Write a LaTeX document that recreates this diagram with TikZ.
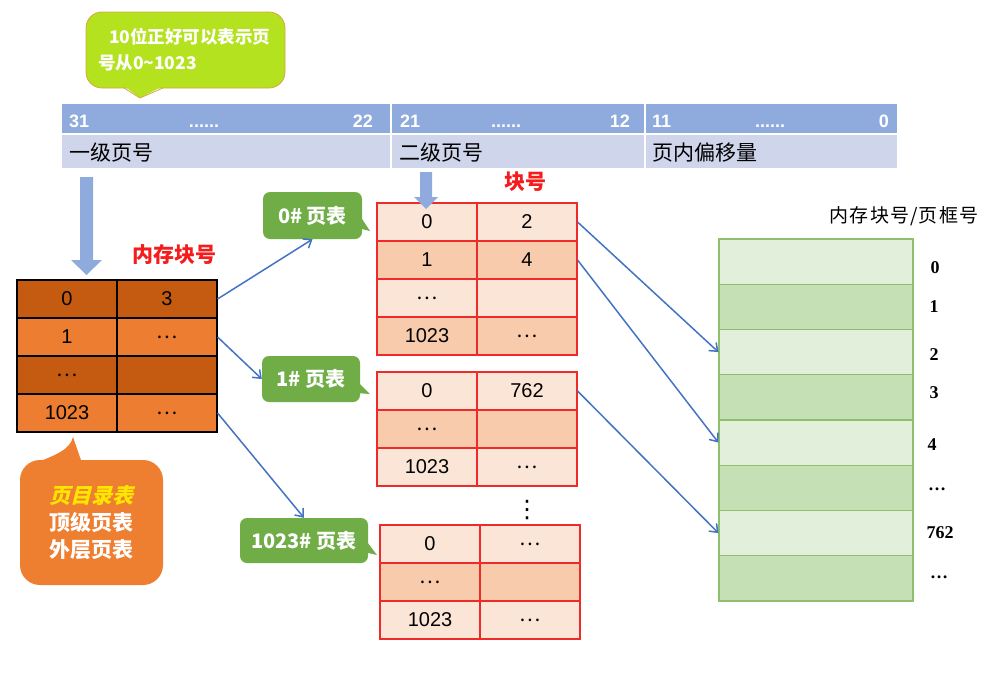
\documentclass[tikz,border=0pt]{standalone}
\usepackage{fontspec}
\setmainfont{Liberation Sans}
\newfontfamily\cjk{Noto Sans CJK SC}
\newfontfamily\cjksl{Noto Sans CJK SC}[FakeSlant=0.25]
\newfontfamily\cjkls{Noto Sans CJK SC}[LetterSpace=6]
\newfontfamily\tnr{Liberation Serif}
\newfontfamily\dejavu{DejaVu Sans}
\usetikzlibrary{arrows.meta}
\definecolor{hblue}{HTML}{8FAADC}
\definecolor{hlav}{HTML}{CFD5EA}
\definecolor{odark}{HTML}{C55A11}
\definecolor{olight}{HTML}{ED7D31}
\definecolor{pl}{HTML}{FBE5D6}
\definecolor{pd}{HTML}{F8CBAD}
\definecolor{pred}{HTML}{EE2A2A}
\definecolor{ml}{HTML}{E2EFDA}
\definecolor{md}{HTML}{C5E0B4}
\definecolor{mborder}{HTML}{8CC06E}
\definecolor{gcol}{HTML}{70AD47}
\definecolor{lime}{HTML}{B4E21E}
\definecolor{limeb}{HTML}{D9A441}
\definecolor{arrblue}{HTML}{4472C4}
\definecolor{ocall}{HTML}{EE7E30}
\definecolor{yel}{HTML}{FFE600}
\definecolor{lred}{HTML}{F41C1C}
\newcommand\mydots{{\cjk …}}
\begin{document}
\begin{tikzpicture}[x=1pt,y=-1pt,
  cell/.style={minimum width=100pt, minimum height=38pt, inner sep=0pt, line width=1.1pt, font=\fontsize{20}{20}\selectfont},
  dcell/.style={cell, draw=black},
  pcell/.style={cell, draw=pred},
  mcell/.style={minimum width=194pt, minimum height=45.25pt, inner sep=0pt, draw=mborder, line width=1.1pt},
  hcell/.style={inner sep=0pt},
  hnum/.style={inner sep=0pt, text=white, font=\fontsize{18}{18}\selectfont\bfseries},
  hlab/.style={inner sep=0pt, anchor=west, font=\cjk\fontsize{21}{21}\selectfont},
  gcall/.style={fill=gcol, rounded corners=7pt, text=white, inner sep=0pt, font=\cjk\bfseries\fontsize{20}{20}\selectfont},
  conn/.style={draw=arrblue, line width=1.5pt, -{Straight Barb[length=7pt,width=11pt]}},
  mlab/.style={inner sep=0pt, font=\tnr\bfseries\fontsize{18}{18}\selectfont},
  redlab/.style={inner sep=0pt, text=lred, font=\cjk\bfseries\fontsize{21}{21}\selectfont}
]
\useasboundingbox (0,0) rectangle (990,680);

% top bubble
\node[fill=lime, draw=limeb, line width=0.8pt, rounded corners=16pt, minimum width=199pt, minimum height=76pt,
      text width=175pt, inner sep=0pt, align=left, text=white,
      font=\cjk\bfseries\fontsize{17.5}{26}\selectfont] (bub) at (185.5,50) {\hspace*{11pt}10位正好可以表示页\\号从0\textasciitilde1023};
\fill[lime] (124,86) -- (140,98) -- (163,86) -- cycle;
\draw[limeb, line width=0.8pt] (124,88) -- (140,98) -- (163,88);

% header
\node[hcell, fill=hblue, minimum width=328pt, minimum height=29pt] (h1) at (226,118.5) {};
\node[hcell, fill=hblue, minimum width=252pt, minimum height=29pt] (h2) at (518,118.5) {};
\node[hcell, fill=hblue, minimum width=251pt, minimum height=29pt] (h3) at (771.5,118.5) {};
\node[hcell, fill=hlav, minimum width=328pt, minimum height=33pt] (l1) at (226,151.5) {};
\node[hcell, fill=hlav, minimum width=252pt, minimum height=33pt] (l2) at (518,151.5) {};
\node[hcell, fill=hlav, minimum width=251pt, minimum height=33pt] (l3) at (771.5,151.5) {};
\node[hnum, anchor=base west] (n31) at (69,127) {31};
\node[hnum, anchor=base] (e1) at (204,127) {......};
\node[hnum, anchor=base east] (n22) at (373,127) {22};
\node[hnum, anchor=base west] (n21) at (400,127) {21};
\node[hnum, anchor=base] (e2) at (506,127) {......};
\node[hnum, anchor=base east] (n12) at (630,127) {12};
\node[hnum, anchor=base west] (n11) at (652,127) {11};
\node[hnum, anchor=base] (e3) at (770,127) {......};
\node[hnum, anchor=base east] (n0) at (889,127) {0};
\node[hlab] (t1) at (69,153) {一级页号};
\node[hlab] (t2) at (399,153) {二级页号};
\node[hlab] (t3) at (652,153) {页内偏移量};

% big arrows
\fill[hblue] (80,177) -- (93,177) -- (93,260) -- (102,260) -- (86.5,275) -- (71,260) -- (80,260) -- cycle;

% red labels
\node[redlab] (lab1) at (174,255) {内存块号};
\node[redlab] (lab2) at (525,182) {块号};

% page directory
\node[dcell, fill=odark] (d00) at (67,299) {0};
\node[dcell, fill=odark] (d01) at (167,299) {3};
\node[dcell, fill=olight] (d10) at (67,337) {1};
\node[dcell, fill=olight] (d11) at (167,337) {\mydots};
\node[dcell, fill=odark] (d20) at (67,375) {\mydots};
\node[dcell, fill=odark] (d21) at (167,375) {};
\node[dcell, fill=olight] (d30) at (67,413) {1023};
\node[dcell, fill=olight] (d31) at (167,413) {\mydots};

% orange callout
\fill[ocall] (36,463) .. controls (55,455) and (70,450) .. (73,437) -- (82,463) -- cycle;
\node[fill=ocall, rounded corners=20pt, minimum width=143pt, minimum height=125pt, inner sep=0pt,
      align=center, text=white, font=\cjk\bfseries\fontsize{21}{27}\selectfont] (oc) at (91.5,522.5)
      {{\color{yel}\cjksl\bfseries 页目录表}\\顶级页表\\外层页表};

% 0# table
\node[pcell, fill=pl] (p000) at (427,222) {0};
\node[pcell, fill=pl] (p001) at (527,222) {2};
\node[pcell, fill=pd] (p010) at (427,260) {1};
\node[pcell, fill=pd] (p011) at (527,260) {4};
\node[pcell, fill=pl] (p020) at (427,298) {\mydots};
\node[pcell, fill=pl] (p021) at (527,298) {};
\node[pcell, fill=pd] (p030) at (427,336) {1023};
\node[pcell, fill=pd] (p031) at (527,336) {\mydots};

% 1# table
\node[pcell, fill=pl] (p100) at (427,391) {0};
\node[pcell, fill=pl] (p101) at (527,391) {762};
\node[pcell, fill=pd] (p110) at (427,429) {\mydots};
\node[pcell, fill=pd] (p111) at (527,429) {};
\node[pcell, fill=pl] (p120) at (427,467) {1023};
\node[pcell, fill=pl] (p121) at (527,467) {\mydots};

\node[inner sep=0pt, font=\dejavu\fontsize{24}{24}\selectfont] (vd) at (527,510) {⋮};

% 1023# table
\node[pcell, fill=pl] (p200) at (430,544) {0};
\node[pcell, fill=pl] (p201) at (530,544) {\mydots};
\node[pcell, fill=pd] (p210) at (430,582) {\mydots};
\node[pcell, fill=pd] (p211) at (530,582) {};
\node[pcell, fill=pl] (p220) at (430,620) {1023};
\node[pcell, fill=pl] (p221) at (530,620) {\mydots};

% small arrow
\fill[hblue] (420,172) -- (432,172) -- (432,197) -- (438,197) -- (426,209) -- (414,197) -- (420,197) -- cycle;

% green callouts
\fill[gcol] (358,213) -- (358,228) -- (370,231) -- cycle;
\node[gcall, minimum width=99pt, minimum height=47pt] (g0) at (312.5,215.5) {0\# 页表};
\fill[gcol] (356,380) -- (356,393) -- (370,394) -- cycle;
\node[gcall, minimum width=98pt, minimum height=46pt] (g1) at (311,379) {1\# 页表};
\fill[gcol] (364,538) -- (364,552) -- (377,555) -- cycle;
\node[gcall, minimum width=128pt, minimum height=45pt] (g2) at (304,540.5) {1023\# 页表};

% memory
\node[mcell, fill=ml] (m0) at (816,261.6) {};
\node[mcell, fill=md] (m1) at (816,306.9) {};
\node[mcell, fill=ml] (m2) at (816,352.1) {};
\node[mcell, fill=md] (m3) at (816,397.4) {};
\node[mcell, fill=ml] (m4) at (816,442.6) {};
\node[mcell, fill=md] (m5) at (816,487.9) {};
\node[mcell, fill=ml] (m6) at (816,533.1) {};
\node[mcell, fill=md] (m7) at (816,578.4) {};
\node[inner sep=0pt, font=\cjkls\fontsize{19}{19}\selectfont] (mt) at (904,216) {内存块号/页框号};
\node[mlab] (k0) at (935,268) {0};
\node[mlab] (k1) at (934,307) {1};
\node[mlab] (k2) at (934,355) {2};
\node[mlab] (k3) at (934,393) {3};
\node[mlab] (k4) at (932,445) {4};
\node[mlab] (k5) at (937,489) {…};
\node[mlab] (k6) at (940,533) {762};
\node[mlab] (k7) at (939,577) {…};

% connectors
\draw[conn] (d01.east) -- (g0.south);
\draw[conn] (d11.east) -- (g1.west);
\draw[conn] (d31.east) -- (g2.north);
\draw[conn] (p001.east) -- (m2.west);
\draw[conn] (p011.east) -- (m4.west);
\draw[conn] (p101.east) -- (m6.west);
\end{tikzpicture}
\end{document}
